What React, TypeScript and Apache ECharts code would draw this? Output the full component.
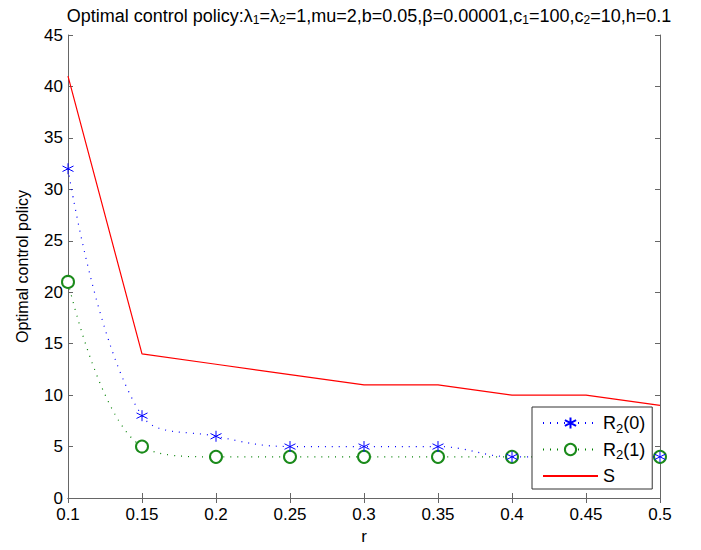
import React, { useEffect, useRef } from "react";
import * as echarts from "echarts";

const rValues = ["0.1", "0.15", "0.2", "0.25", "0.3", "0.35", "0.4", "0.45", "0.5"];
const r2Zero = [32, 8, 6, 5, 5, 5, 4, 4, 4];
const r2One = [21, 5, 4, 4, 4, 4, 4, 4, 4];
const sValues = [41, 14, 13, 12, 11, 11, 10, 10, 9];
const seriesNames = ["R2(0)", "R2(1)", "S"];

const FONT = "Liberation Sans, Arial, sans-serif";
const ASTERISK = "path://M0,-10L0,10M-8.66,-5L8.66,5M-8.66,5L8.66,-5";

export default function App() {
  const ref = useRef<HTMLDivElement>(null);
  useEffect(() => {
    if (!ref.current) return;
    const chart = echarts.init(ref.current, undefined, { renderer: "svg" });
    const axisColor = "#666";
    const subStyle = {
      fontSize: 12,
      fontFamily: FONT,
      color: "#000",
      verticalAlign: "bottom" as const,
      padding: [9, 0, 0, 0],
    };
    chart.setOption({
      animation: false,
      backgroundColor: "#fff",
      title: {
        text:
          "Optimal control policy:λ{sub|1}=λ{sub|2}=1,mu=2,b=0.05,β=0.00001,c{sub|1}=100,c{sub|2}=10,h=0.1",
        left: 364,
        textAlign: "center",
        top: 0,
        textStyle: {
          fontFamily: FONT,
          fontSize: 18,
          fontWeight: "normal",
          color: "#000",
          rich: { sub: subStyle },
        },
      },
      grid: { left: 68, right: 41, top: 35, bottom: 48 },
      legend: {
        orient: "vertical",
        left: 532,
        top: 407,
        itemWidth: 55,
        itemHeight: 14,
        itemGap: 6,
        itemTextGap: 6,
        padding: [7, 7, 4, 10],
        backgroundColor: "#fff",
        borderColor: "#333",
        borderWidth: 1,
        borderRadius: 0,
        data: [
          { name: seriesNames[0] },
          { name: seriesNames[1] },
          { name: seriesNames[2], itemStyle: { opacity: 0 } },
        ],
        formatter: (name: string) =>
          name === "S" ? "S" : "R{sub|2}" + name.slice(2),
        textStyle: {
          fontFamily: FONT,
          fontSize: 18,
          color: "#000",
          rich: {
            sub: { ...subStyle, fontSize: 13, padding: [10, 0, 0, 0] },
          },
        },
      },
      xAxis: [
        {
          type: "category",
          data: rValues,
          boundaryGap: false,
          name: "r",
          nameLocation: "middle",
          nameGap: 30,
          nameTextStyle: { fontFamily: FONT, fontSize: 17, color: "#000" },
          axisLine: { lineStyle: { color: axisColor, width: 1 } },
          axisTick: { inside: true, length: 5, lineStyle: { color: axisColor } },
          axisLabel: { fontFamily: FONT, fontSize: 17, color: "#000", margin: 8 },
          splitLine: { show: false },
        },
        {
          type: "category",
          data: rValues,
          boundaryGap: false,
          position: "top",
          axisLine: { lineStyle: { color: axisColor, width: 1 } },
          axisTick: { inside: true, length: 5, lineStyle: { color: axisColor } },
          axisLabel: { show: false },
          splitLine: { show: false },
        },
      ],
      yAxis: [
        {
          type: "value",
          min: 0,
          max: 45,
          interval: 5,
          name: "Optimal control policy",
          nameLocation: "middle",
          nameGap: 38,
          nameTextStyle: { fontFamily: FONT, fontSize: 16, color: "#000" },
          axisLine: { show: true, lineStyle: { color: axisColor, width: 1 } },
          axisTick: { show: true, inside: true, length: 5, lineStyle: { color: axisColor } },
          axisLabel: { fontFamily: FONT, fontSize: 17, lineHeight: 13, color: "#000", margin: 5 },
          splitLine: { show: false },
        },
        {
          type: "value",
          min: 0,
          max: 45,
          interval: 5,
          position: "right",
          axisLine: { show: true, lineStyle: { color: axisColor, width: 1 } },
          axisTick: { show: true, inside: true, length: 5, lineStyle: { color: axisColor } },
          axisLabel: { show: false },
          splitLine: { show: false },
        },
      ],
      series: [
        {
          name: seriesNames[0],
          type: "line",
          data: r2Zero,
          smooth: 0.4,
          symbol: ASTERISK,
          symbolSize: 11,
          showAllSymbol: true,
          lineStyle: { color: "#0000ff", width: 1.2, type: [1, 6] },
          itemStyle: { color: "#0000ff", borderColor: "#0000ff", borderWidth: 1 },
          z: 3,
        },
        {
          name: seriesNames[1],
          type: "line",
          data: r2One,
          smooth: 0.4,
          symbol: "emptyCircle",
          symbolSize: 12,
          showAllSymbol: true,
          lineStyle: { color: "#008000", width: 1.2, type: [1, 6] },
          itemStyle: { color: "#1a8a1a", borderColor: "#1a8a1a", borderWidth: 1 },
          z: 2,
        },
        {
          name: seriesNames[2],
          type: "line",
          data: sValues,
          symbol: "none",
          lineStyle: { color: "#ff0000", width: 1.2 },
          itemStyle: { color: "#ff0000" },
          z: 1,
        },
      ],
    });
    return () => chart.dispose();
  }, []);
  return <div ref={ref} style={{ width: 701, height: 550, margin: -8 }} />;
}
